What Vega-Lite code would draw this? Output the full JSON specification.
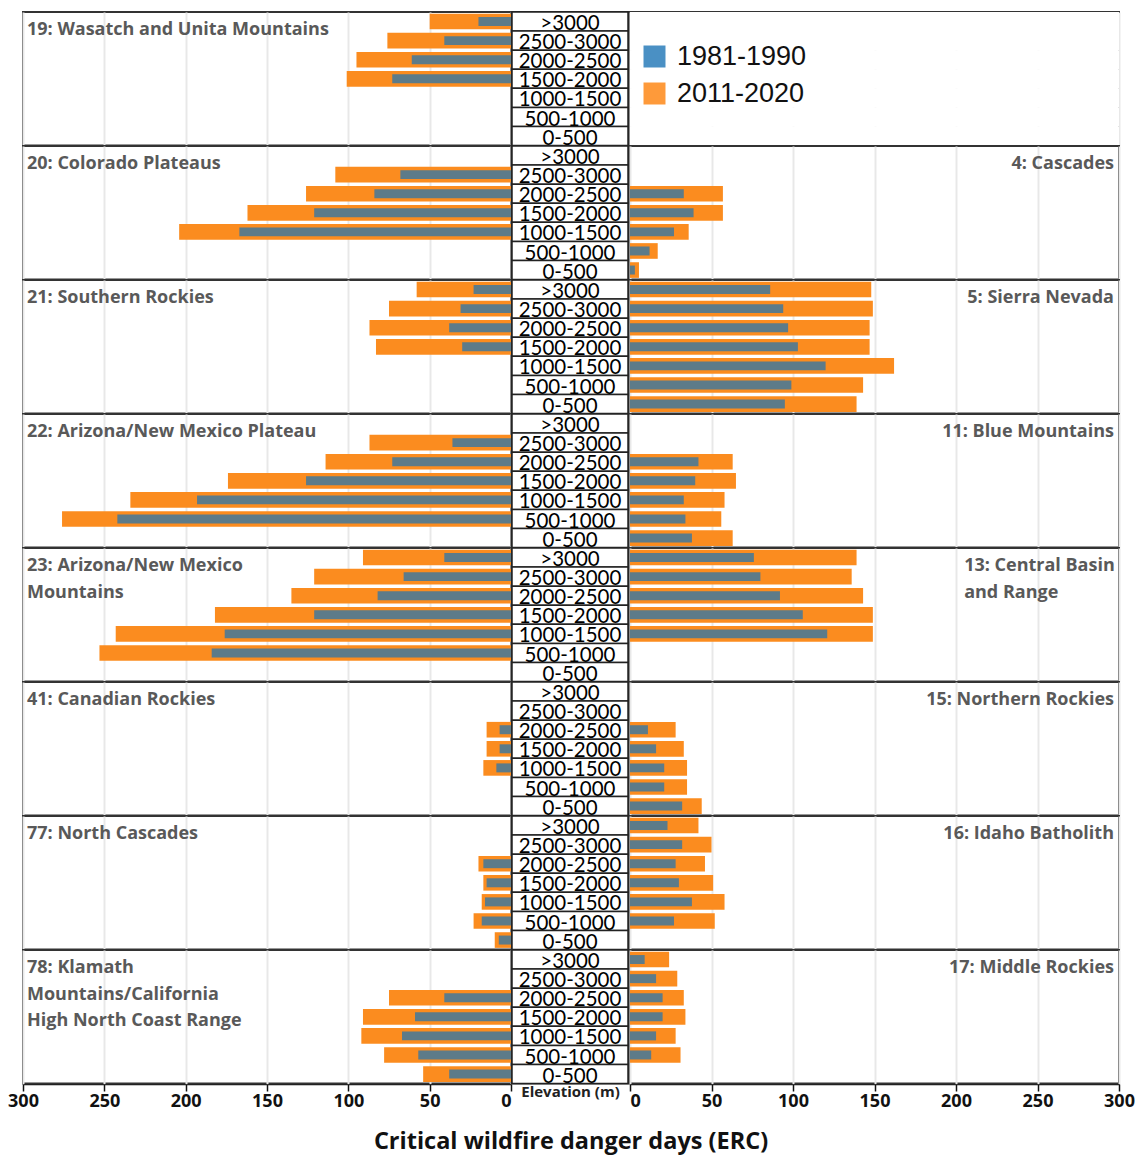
{
  "$schema": "https://vega.github.io/schema/vega-lite/v6.json",
  "padding": {"left": 7, "top": 10, "right": 0, "bottom": 2},
  "background": "white",
  "data": {"values": [
    {"panel":1,"elev":">3000","L1981":20,"L2011":50,"ltitle":"19: Wasatch and Unita Mountains"},
    {"panel":1,"elev":"2500-3000","L1981":41,"L2011":76},
    {"panel":1,"elev":"2000-2500","L1981":61,"L2011":95},
    {"panel":1,"elev":"1500-2000","L1981":73,"L2011":101},
    {"panel":1,"elev":"1000-1500"},
    {"panel":1,"elev":"500-1000"},
    {"panel":1,"elev":"0-500"},
    {"panel":2,"elev":">3000","ltitle":"20: Colorado Plateaus","rtitle":"4: Cascades"},
    {"panel":2,"elev":"2500-3000","L1981":68,"L2011":108},
    {"panel":2,"elev":"2000-2500","L1981":84,"L2011":126,"R1981":33,"R2011":57},
    {"panel":2,"elev":"1500-2000","L1981":121,"L2011":162,"R1981":39,"R2011":57},
    {"panel":2,"elev":"1000-1500","L1981":167,"L2011":204,"R1981":27,"R2011":36},
    {"panel":2,"elev":"500-1000","R1981":12,"R2011":17},
    {"panel":2,"elev":"0-500","R1981":3,"R2011":5.5},
    {"panel":3,"elev":">3000","L1981":23,"L2011":58,"R1981":86,"R2011":148,"ltitle":"21: Southern Rockies","rtitle":"5: Sierra Nevada"},
    {"panel":3,"elev":"2500-3000","L1981":31,"L2011":75,"R1981":94,"R2011":149},
    {"panel":3,"elev":"2000-2500","L1981":38,"L2011":87,"R1981":97,"R2011":147},
    {"panel":3,"elev":"1500-2000","L1981":30,"L2011":83,"R1981":103,"R2011":147},
    {"panel":3,"elev":"1000-1500","R1981":120,"R2011":162},
    {"panel":3,"elev":"500-1000","R1981":99,"R2011":143},
    {"panel":3,"elev":"0-500","R1981":95,"R2011":139},
    {"panel":4,"elev":">3000","ltitle":"22: Arizona/New Mexico Plateau","rtitle":"11: Blue Mountains"},
    {"panel":4,"elev":"2500-3000","L1981":36,"L2011":87},
    {"panel":4,"elev":"2000-2500","L1981":73,"L2011":114,"R1981":42,"R2011":63},
    {"panel":4,"elev":"1500-2000","L1981":126,"L2011":174,"R1981":40,"R2011":65},
    {"panel":4,"elev":"1000-1500","L1981":193,"L2011":234,"R1981":33,"R2011":58},
    {"panel":4,"elev":"500-1000","L1981":242,"L2011":276,"R1981":34,"R2011":56},
    {"panel":4,"elev":"0-500","R1981":38,"R2011":63},
    {"panel":5,"elev":">3000","L1981":41,"L2011":91,"R1981":76,"R2011":139,"ltitle":"23: Arizona/New Mexico\nMountains","rtitle":"13: Central Basin\nand Range"},
    {"panel":5,"elev":"2500-3000","L1981":66,"L2011":121,"R1981":80,"R2011":136},
    {"panel":5,"elev":"2000-2500","L1981":82,"L2011":135,"R1981":92,"R2011":143},
    {"panel":5,"elev":"1500-2000","L1981":121,"L2011":182,"R1981":106,"R2011":149},
    {"panel":5,"elev":"1000-1500","L1981":176,"L2011":243,"R1981":121,"R2011":149},
    {"panel":5,"elev":"500-1000","L1981":184,"L2011":253},
    {"panel":5,"elev":"0-500"},
    {"panel":6,"elev":">3000","ltitle":"41: Canadian Rockies","rtitle":"15: Northern Rockies"},
    {"panel":6,"elev":"2500-3000"},
    {"panel":6,"elev":"2000-2500","L1981":7,"L2011":15,"R1981":11,"R2011":28},
    {"panel":6,"elev":"1500-2000","L1981":7,"L2011":15,"R1981":16,"R2011":33},
    {"panel":6,"elev":"1000-1500","L1981":9,"L2011":17,"R1981":21,"R2011":35},
    {"panel":6,"elev":"500-1000","R1981":21,"R2011":35},
    {"panel":6,"elev":"0-500","R1981":32,"R2011":44},
    {"panel":7,"elev":">3000","R1981":23,"R2011":42,"ltitle":"77: North Cascades","rtitle":"16: Idaho Batholith"},
    {"panel":7,"elev":"2500-3000","R1981":32,"R2011":50},
    {"panel":7,"elev":"2000-2500","L1981":17,"L2011":20,"R1981":28,"R2011":46},
    {"panel":7,"elev":"1500-2000","L1981":15,"L2011":17,"R1981":30,"R2011":51},
    {"panel":7,"elev":"1000-1500","L1981":16,"L2011":18,"R1981":38,"R2011":58},
    {"panel":7,"elev":"500-1000","L1981":18,"L2011":23,"R1981":27,"R2011":52},
    {"panel":7,"elev":"0-500","L1981":7.5,"L2011":10},
    {"panel":8,"elev":">3000","R1981":9,"R2011":24,"ltitle":"78: Klamath\nMountains/California\nHigh North Coast Range","rtitle":"17: Middle Rockies"},
    {"panel":8,"elev":"2500-3000","R1981":16,"R2011":29},
    {"panel":8,"elev":"2000-2500","L1981":41,"L2011":75,"R1981":20,"R2011":33},
    {"panel":8,"elev":"1500-2000","L1981":59,"L2011":91,"R1981":20,"R2011":34},
    {"panel":8,"elev":"1000-1500","L1981":67,"L2011":92,"R1981":16,"R2011":28},
    {"panel":8,"elev":"500-1000","L1981":57,"L2011":78,"R1981":13,"R2011":31},
    {"panel":8,"elev":"0-500","L1981":38,"L2011":54}
  ]},
  "title": {"text": "Critical wildfire danger days (ERC)", "orient": "bottom", "anchor": "middle", "fontSize": 23.5, "font": "Open Sans", "fontWeight": "bold", "color": "#111", "offset": 20},
  "spacing": -2,
  "resolve": {"scale": {"x": "independent", "y": "independent", "color": "shared", "fill": "shared"}, "legend": {"color": "shared"}},
  "hconcat": [
    {
      "facet": {"row": {"field": "panel", "type": "ordinal", "header": {"labels": false, "title": null}}},
      "spacing": {"row": 0},
      "bounds": "flush",
      "spec": {
        "width": 488, "height": 133.6,
        "layer": [
          {"mark": {"type": "bar", "height": {"band": 0.82}},
           "encoding": {
             "y": {"field": "elev", "type": "nominal", "sort": [">3000","2500-3000","2000-2500","1500-2000","1000-1500","500-1000","0-500"], "scale": {"domain": [">3000","2500-3000","2000-2500","1500-2000","1000-1500","500-1000","0-500"], "paddingInner": 0, "paddingOuter": 0}, "axis": null},
             "x": {"field": "L2011", "type": "quantitative", "scale": {"domain": [0, 300], "reverse": true},
                   "axis": {"title": null, "values": [0,50,100,150,200,250,300], "labelFontSize": 18, "labelFontWeight": "bold", "labelFont": "Open Sans", "labelColor": "#111", "labelFlush": false, "labelPadding": 1,
                            "labelAlign": {"condition": {"test": "datum.value == 0", "value": "right"}, "value": "center"},
                            "tickColor": "#111", "tickSize": 7, "tickWidth": 1.5, "domainColor": "#111", "domainWidth": 1.5, "gridColor": "#e8e8e8", "gridWidth": 2}},
             "fill": {"datum": "2011-2020", "type": "nominal",
                      "scale": {"domain": ["2011-2020", "1981-1990"], "range": ["#fb8c1f", "#5d7b89"]},
                      "legend": null}
           }},
          {"mark": {"type": "bar", "height": {"band": 0.47}},
           "encoding": {
             "y": {"field": "elev", "type": "nominal", "sort": [">3000","2500-3000","2000-2500","1500-2000","1000-1500","500-1000","0-500"], "axis": null},
             "x": {"field": "L1981", "type": "quantitative"},
             "fill": {"datum": "1981-1990", "type": "nominal", "legend": null}
           }},
          {"mark": {"type": "point", "filled": true, "size": 0, "opacity": 1},
           "encoding": {
             "color": {"datum": "1981-1990", "type": "nominal",
                       "scale": {"domain": ["1981-1990", "2011-2020"], "range": ["#4a90c4", "#fe9a3a"]},
                       "legend": {"title": null, "orient": "none", "legendX": 618, "legendY": 31, "symbolType": "square", "symbolSize": 484, "symbolOpacity": 1, "labelFont": "Liberation Sans", "labelFontSize": 27, "labelColor": "#111", "labelOffset": 9, "rowPadding": 9, "symbolStrokeWidth": 0, "labelLimit": 300}}
           }},
          {"mark": {"type": "point", "filled": true, "size": 0, "opacity": 1},
           "encoding": {
             "color": {"datum": "2011-2020", "type": "nominal"}
           }},
          {"transform": [{"filter": "datum.ltitle != null"}],
           "mark": {"type": "text", "align": "left", "baseline": "alphabetic", "dx": 4, "dy": 23, "fontSize": 18, "fontWeight": "bold", "font": "Open Sans", "color": "#595959", "lineBreak": "\n", "lineHeight": 26.5},
           "encoding": {
             "x": {"datum": 300, "type": "quantitative"},
             "y": {"field": "elev", "type": "nominal", "bandPosition": 0, "sort": [">3000","2500-3000","2000-2500","1500-2000","1000-1500","500-1000","0-500"], "axis": null},
             "text": {"field": "ltitle"}
           }}
        ]
      }
    },
    {
      "facet": {"row": {"field": "panel", "type": "ordinal", "header": {"labels": false, "title": null}}},
      "spacing": {"row": 0},
      "bounds": "flush",
      "spec": {
        "width": 116, "height": 133.6,
        "layer": [
          {"mark": {"type": "rect", "fill": "white", "stroke": "#222", "strokeWidth": 1.5},
           "encoding": {
             "x": {"datum": 0, "type": "quantitative", "scale": {"domain": [0, 1]},
                   "axis": {"title": "Elevation (m)", "labels": false, "ticks": false, "domain": false, "grid": false, "titleFontSize": 15, "titleFontWeight": "bold", "titleFont": "Open Sans", "titleColor": "#222", "titlePadding": 0}},
             "x2": {"datum": 1},
             "y": {"field": "elev", "type": "nominal", "sort": [">3000","2500-3000","2000-2500","1500-2000","1000-1500","500-1000","0-500"], "scale": {"domain": [">3000","2500-3000","2000-2500","1500-2000","1000-1500","500-1000","0-500"], "paddingInner": 0, "paddingOuter": 0}, "axis": null}
           }},
          {"mark": {"type": "text", "font": "Lato", "fontSize": 20.5, "baseline": "alphabetic", "dy": -1, "color": "#000"},
           "encoding": {
             "x": {"datum": 0.5, "type": "quantitative"},
             "y": {"field": "elev", "type": "nominal", "bandPosition": 1, "sort": [">3000","2500-3000","2000-2500","1500-2000","1000-1500","500-1000","0-500"], "axis": null},
             "text": {"field": "elev"}
           }}
        ]
      }
    },
    {
      "facet": {"row": {"field": "panel", "type": "ordinal", "header": {"labels": false, "title": null}}},
      "spacing": {"row": 0},
      "bounds": "flush",
      "spec": {
        "width": 489, "height": 133.6,
        "layer": [
          {"mark": {"type": "bar", "height": {"band": 0.82}},
           "encoding": {
             "y": {"field": "elev", "type": "nominal", "sort": [">3000","2500-3000","2000-2500","1500-2000","1000-1500","500-1000","0-500"], "scale": {"domain": [">3000","2500-3000","2000-2500","1500-2000","1000-1500","500-1000","0-500"], "paddingInner": 0, "paddingOuter": 0}, "axis": null},
             "x": {"field": "R2011", "type": "quantitative", "scale": {"domain": [0, 300]},
                   "axis": {"title": null, "values": [0,50,100,150,200,250,300], "labelFontSize": 18, "labelFontWeight": "bold", "labelFont": "Open Sans", "labelColor": "#111", "labelFlush": false, "labelPadding": 1,
                            "labelAlign": {"condition": {"test": "datum.value == 0", "value": "left"}, "value": "center"},
                            "tickColor": "#111", "tickSize": 7, "tickWidth": 1.5, "domainColor": "#111", "domainWidth": 1.5, "gridColor": "#e8e8e8", "gridWidth": 2}},
             "fill": {"datum": "2011-2020", "type": "nominal", "legend": null}
           }},
          {"mark": {"type": "bar", "height": {"band": 0.47}},
           "encoding": {
             "y": {"field": "elev", "type": "nominal", "sort": [">3000","2500-3000","2000-2500","1500-2000","1000-1500","500-1000","0-500"], "axis": null},
             "x": {"field": "R1981", "type": "quantitative"},
             "fill": {"datum": "1981-1990", "type": "nominal", "legend": null}
           }},
          {"transform": [{"filter": "datum.panel == 1"}],
           "mark": {"type": "rect", "fill": "white"},
           "encoding": {
             "x": {"datum": 0, "type": "quantitative"},
             "x2": {"datum": 300},
             "y": {"field": "elev", "type": "nominal", "sort": [">3000","2500-3000","2000-2500","1500-2000","1000-1500","500-1000","0-500"], "axis": null}
           }},
          {"transform": [{"filter": "datum.rtitle != null && datum.panel != 5"}],
           "mark": {"type": "text", "align": "right", "baseline": "alphabetic", "dx": -5, "dy": 23, "fontSize": 18, "fontWeight": "bold", "font": "Open Sans", "color": "#595959", "lineBreak": "\n", "lineHeight": 26.5},
           "encoding": {
             "x": {"datum": 300, "type": "quantitative"},
             "y": {"field": "elev", "type": "nominal", "bandPosition": 0, "sort": [">3000","2500-3000","2000-2500","1500-2000","1000-1500","500-1000","0-500"], "axis": null},
             "text": {"field": "rtitle"}
           }},
          {"transform": [{"filter": "datum.rtitle != null && datum.panel == 5"}],
           "mark": {"type": "text", "align": "left", "baseline": "alphabetic", "dy": 23, "fontSize": 18, "fontWeight": "bold", "font": "Open Sans", "color": "#595959", "lineBreak": "\n", "lineHeight": 26.5},
           "encoding": {
             "x": {"datum": 205, "type": "quantitative"},
             "y": {"field": "elev", "type": "nominal", "bandPosition": 0, "sort": [">3000","2500-3000","2000-2500","1500-2000","1000-1500","500-1000","0-500"], "axis": null},
             "text": {"field": "rtitle"}
           }}
        ]
      }
    }
  ],
  "config": {
    "view": {"stroke": "#333", "strokeWidth": 2},
    "font": "Open Sans"
  }
}
